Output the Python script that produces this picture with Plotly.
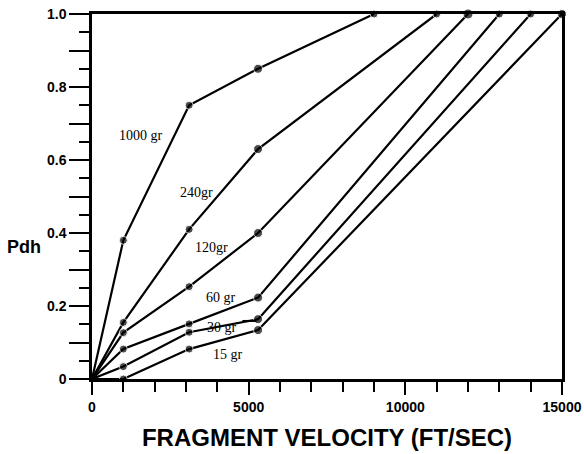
import plotly.graph_objects as go

velocity = [0, 1000, 3100, 5300]
series_names = ["1000 gr", "240gr", "120gr", "60 gr", "30 gr", "15 gr"]
pdh_1000 = [0.0, 0.38, 0.75, 0.85]
pdh_240 = [0.0, 0.155, 0.41, 0.63]
pdh_120 = [0.0, 0.127, 0.253, 0.40]
pdh_60 = [0.0, 0.082, 0.151, 0.223]
pdh_30 = [0.0, 0.034, 0.128, 0.164]
pdh_15 = [0.0, 0.0, 0.082, 0.134]
full_velocity = [9000, 11000, 12000, 13000, 14000, 15000]

label_x = [1560, 3350, 3800, 4120, 4150, 4340]
label_y = [0.668, 0.512, 0.359, 0.222, 0.14, 0.068]

all_series = [pdh_1000, pdh_240, pdh_120, pdh_60, pdh_30, pdh_15]
end_sizes = [8, 8, 10, 8, 8, 9]

fig = go.Figure()
for name, vals, vfull, es in zip(series_names, all_series, full_velocity, end_sizes):
    xs = velocity + [vfull]
    ys = vals + [1.0]
    fig.add_trace(go.Scatter(
        x=xs, y=ys, mode="lines+markers", name=name,
        line=dict(color="black", width=2.2),
        marker=dict(color="black", size=[0, 8, 8, 9, es]),
        showlegend=False, cliponaxis=False,
    ))

for name, lx, ly in zip(series_names, label_x, label_y):
    fig.add_annotation(x=lx, y=ly, text=name, showarrow=False,
                       font=dict(family="Liberation Serif", size=14, color="black"))

# leader dash next to the 30 gr label
fig.add_shape(type="line", x0=4800, x1=5250, y0=0.159, y1=0.159,
              line=dict(color="black", width=2))

fig.add_annotation(x=-0.185, y=0.362, xref="paper", yref="paper", xanchor="left",
                   text="<b>Pdh</b>", showarrow=False,
                   font=dict(family="Liberation Sans", size=18, color="black"))
fig.update_layout(
    width=584, height=454,
    margin=dict(l=92, r=22, t=14, b=75),
    plot_bgcolor="white", paper_bgcolor="white",
    xaxis=dict(
        range=[0, 15000], tickvals=[0, 5000, 10000, 15000],
        ticktext=["<b>0</b>", "<b>5000</b>", "<b>10000</b>", "<b>15000</b>"],
        ticks="outside", ticklen=13, tickwidth=2, tickcolor="black",
        minor=dict(dtick=1000, ticks="outside", ticklen=10, tickwidth=2, tickcolor="black"),
        showline=True, linecolor="black", linewidth=2.5, mirror=True,
        showgrid=False, zeroline=False, automargin=False,
        tickfont=dict(family="Liberation Sans", size=14, color="black"),
        title=dict(text="<b>FRAGMENT VELOCITY (FT/SEC)</b>",
                   font=dict(family="Liberation Sans", size=24, color="black"),
                   standoff=16),
    ),
    yaxis=dict(
        range=[0, 1.0],
        tickvals=[0, 0.1, 0.2, 0.3, 0.4, 0.5, 0.6, 0.7, 0.8, 0.9, 1.0],
        ticktext=["<b>0</b>", "", "<b>0.2</b>", "", "<b>0.4</b>", "", "<b>0.6</b>", "",
                  "<b>0.8</b>", "", "<b>1.0</b>"],
        ticks="outside", ticklen=20, tickwidth=2, tickcolor="black",
        minor=dict(dtick=0.05, ticks="outside", ticklen=10, tickwidth=2, tickcolor="black"),
        showline=True, linecolor="black", linewidth=2.5, mirror=True,
        showgrid=False, zeroline=False, automargin=False,
        tickfont=dict(family="Liberation Sans", size=14, color="black"),
    ),
)
fig.write_html("out.html", config={"displayModeBar": False},
               post_script="document.body.style.margin='0';")
